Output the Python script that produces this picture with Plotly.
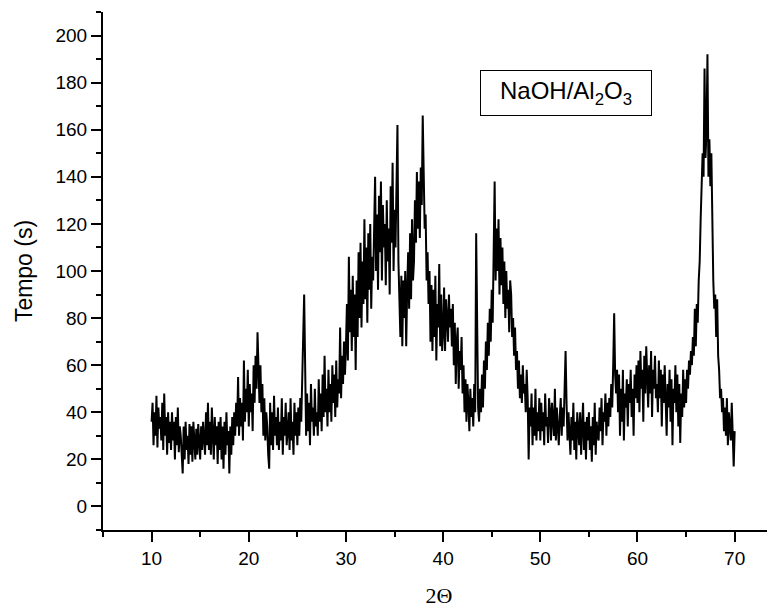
import numpy as np
import plotly.graph_objects as go

# Scan grid: 2-theta from 10.0 to 70.0 in steps of 0.1 degree
theta_start = 10.0
theta_step = 0.1

# Counts, one row per degree (10 points per degree)
counts_10_20 = [
    36, 44, 26, 40, 30, 47, 25, 42, 33, 38,
    28, 44, 24, 48, 30, 38, 22, 40, 27, 36,
    24, 40, 28, 36, 20, 38, 26, 42, 23, 34,
    30, 22, 14, 34, 20, 36, 24, 30, 18, 35,
    22, 34, 19, 36, 26, 20, 33, 22, 35, 25,
    20, 34, 24, 36, 28, 22, 40, 26, 44, 24,
    36, 22, 42, 28, 20, 38, 26, 34, 18, 36,
    24, 38, 20, 34, 16, 36, 22, 40, 26, 32,
    14, 34, 22, 38, 26, 40, 30, 44, 34, 55,
    30, 46, 34, 44, 28, 62, 36, 50, 40, 58,
]
counts_20_30 = [
    34, 52, 40, 48, 32, 60, 44, 64, 50, 74,
    56, 44, 60, 40, 52, 30, 46, 28, 40, 34,
    22, 16, 44, 26, 40, 24, 47, 30, 38, 26,
    42, 24, 36, 28, 46, 22, 38, 30, 44, 26,
    32, 40, 24, 46, 28, 36, 22, 44, 30, 40,
    26, 42, 30, 46, 36, 50, 72, 90, 44, 30,
    48, 32, 44, 26, 52, 36, 42, 30, 50, 34,
    40, 30, 54, 36, 48, 32, 56, 38, 64, 40,
    50, 34, 58, 40, 52, 36, 60, 44, 56, 38,
    62, 42, 54, 48, 76, 46, 64, 52, 70, 56,
]
counts_30_40 = [
    68, 86, 62, 106, 74, 92, 66, 98, 72, 90,
    58, 96, 72, 108, 80, 112, 76, 104, 86, 122,
    88, 110, 78, 116, 92, 120, 84, 106, 96, 130,
    140, 100, 124, 92, 132, 108, 138, 96, 128, 110,
    120, 94, 130, 104, 118, 90, 136, 112, 146, 100,
    126, 110, 140, 162, 104, 90, 72, 98, 68, 96,
    80, 100, 68, 92, 108, 84, 116, 88, 122, 96,
    104, 130, 112, 142, 118, 138, 114, 144, 128, 166,
    140, 118, 124, 96, 108, 86, 100, 70, 94, 66,
    92, 72, 98, 62, 86, 76, 103, 68, 90, 66,
]
counts_40_50 = [
    74, 93, 66, 88, 80, 70, 90, 76, 84, 68,
    86, 60, 78, 52, 70, 76, 50, 66, 58, 72,
    48, 60, 40, 54, 36, 52, 44, 32, 50, 38,
    46, 34, 52, 40, 116, 70, 42, 36, 50, 40,
    56, 42, 62, 50, 70, 58, 78, 64, 84, 70,
    92, 78, 104, 138, 96, 118, 100, 122, 90, 114,
    94, 110, 86, 104, 80, 100, 84, 92, 74, 96,
    90, 72, 80, 64, 76, 58, 66, 50, 62, 46,
    56, 44, 60, 48, 52, 40, 58, 46, 20, 42,
    34, 48, 26, 42, 30, 50, 28, 40, 32, 46,
]
counts_50_60 = [
    28, 44, 32, 40, 26, 48, 34, 38, 27, 46,
    40, 28, 44, 34, 30, 50, 28, 42, 36, 26,
    38, 46, 30, 42, 34, 54, 66, 44, 28, 40,
    32, 22, 38, 28, 44, 24, 36, 20, 40, 30,
    26, 40, 22, 34, 44, 24, 36, 20, 38, 28,
    40, 24, 34, 19, 38, 26, 44, 22, 36, 30,
    28, 42, 32, 46, 26, 40, 36, 48, 30, 44,
    34, 46, 38, 52, 42, 60, 82, 56, 48, 58,
    40, 56, 30, 50, 36, 58, 28, 48, 42, 54,
    34, 52, 44, 58, 38, 50, 30, 56, 46, 60,
]
counts_60_70 = [
    44, 62, 40, 66, 50, 58, 36, 64, 48, 68,
    56, 42, 60, 48, 66, 38, 58, 50, 64, 46,
    52, 40, 62, 46, 58, 34, 56, 44, 60, 40,
    30, 52, 42, 58, 36, 54, 26, 50, 44, 60,
    40, 56, 34, 52, 27, 48, 38, 58, 42, 54,
    44, 58, 50, 62, 56, 66, 60, 72, 64, 84,
    68, 86, 78, 96, 104, 122, 136, 150, 140, 186,
    148, 160, 192, 140, 156, 136, 150, 108, 96, 84,
    90, 72, 88, 64, 58, 46, 50, 40, 46, 32,
    42, 30, 46, 26, 40, 34, 28, 44, 24, 17,
]
counts_70 = [32]

counts = (counts_10_20 + counts_20_30 + counts_30_40 + counts_40_50
          + counts_50_60 + counts_60_70 + counts_70)
two_theta = np.round(theta_start + theta_step * np.arange(len(counts)), 2)

sample_label = "NaOH/Al<sub>2</sub>O<sub>3</sub>"
x_title = "2Θ"
y_title = "Tempo (s)"

fig = go.Figure()
fig.add_trace(go.Scatter(
    x=two_theta, y=counts, mode="lines",
    line=dict(color="black", width=2),
    showlegend=False, hoverinfo="x+y",
))

tick_font = dict(family="Liberation Sans, Arial", size=19, color="black")

fig.update_layout(
    width=767, height=604,
    margin=dict(l=95, r=0, t=4, b=82),
    paper_bgcolor="white", plot_bgcolor="white",
    xaxis=dict(
        range=[5, 74.15], showgrid=False, zeroline=False,
        showline=True, linecolor="black", linewidth=2,
        ticks="outside", ticklen=10, tickwidth=2, tickcolor="black",
        tick0=0, dtick=10, tickfont=tick_font,
        minor=dict(ticks="outside", dtick=5, ticklen=5, tickwidth=2, tickcolor="black"),
        title=dict(text=x_title, font=dict(family="Liberation Serif, Times New Roman", size=22, color="black"), standoff=20),
        automargin=False,
    ),
    yaxis=dict(
        range=[-10, 210], showgrid=False, zeroline=False,
        showline=True, linecolor="black", linewidth=2,
        ticks="outside", ticklen=10, tickwidth=2, tickcolor="black",
        tick0=0, dtick=20, tickfont=tick_font,
        minor=dict(ticks="outside", dtick=10, ticklen=5, tickwidth=2, tickcolor="black"),
        title=dict(text=y_title, font=dict(family="Liberation Sans, Arial", size=23, color="black"), standoff=16),
        automargin=False,
    ),
    annotations=[dict(
        x=52.6, y=175.4, xref="x", yref="y",
        text=sample_label, showarrow=False,
        font=dict(family="Liberation Sans, Arial", size=24, color="black"),
        bordercolor="black", borderwidth=1, borderpad=0,
        width=170, height=44, align="center", valign="middle",
        bgcolor="white",
    )],
)

fig.write_html("out.html")
